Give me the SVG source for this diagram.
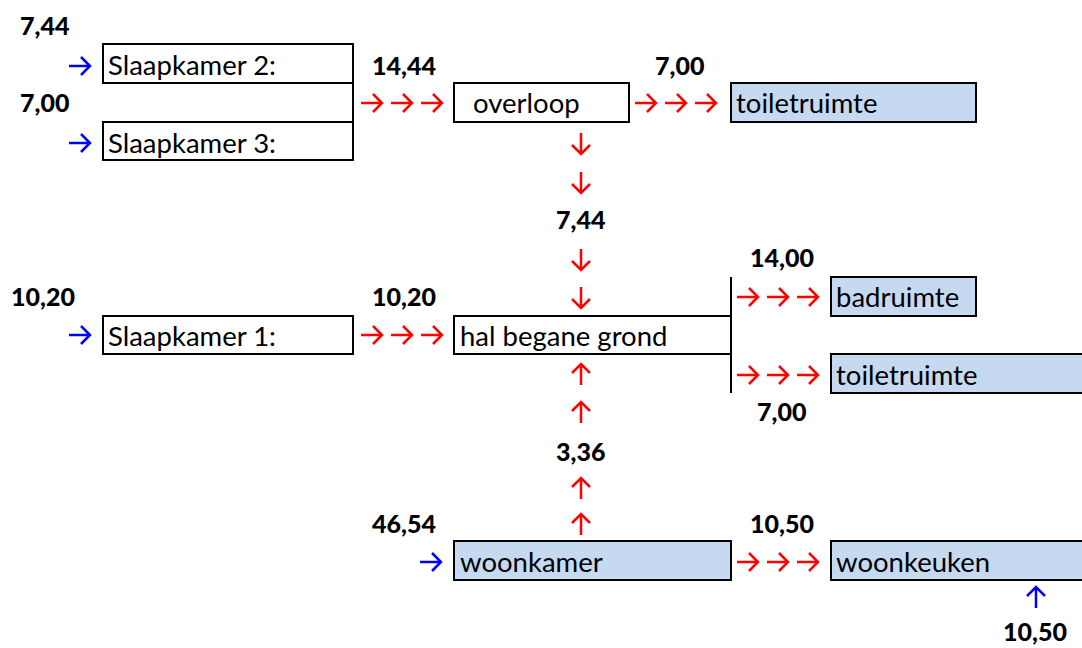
<svg xmlns="http://www.w3.org/2000/svg" width="1082" height="648" viewBox="0 0 1082 648">
<style>
.box{fill:#fff;stroke:#000;stroke-width:2}
.blue{fill:#C5D9F1;stroke:#000;stroke-width:2}
.t{font-family:Lato,"Liberation Sans",sans-serif;font-size:27.5px;fill:#000}
.n{font-family:Lato,"Liberation Sans",sans-serif;font-size:25px;font-weight:900;fill:#000}
.r{stroke:#FF0000;stroke-width:2.5;fill:none}
.b{stroke:#0000FF;stroke-width:2.5;fill:none}
.ln{stroke:#000;stroke-width:2}
</style>
<defs>
<path id="ah" d="M0,0 H21 M12,-9 L21,0 L12,9"/>
</defs>
<rect width="1082" height="648" fill="#fff"/>
<g id="connectors">
<line class="ln" x1="731" y1="277" x2="731" y2="393"/>
<g class="b">
<use href="#ah" x="69" y="66"/>
<use href="#ah" x="69" y="143"/>
<use href="#ah" x="69" y="335"/>
<use href="#ah" x="420" y="562"/>
<use href="#ah" transform="translate(1036,608) rotate(-90)"/>
</g>
<g class="r">
<use href="#ah" x="361" y="103"/><use href="#ah" x="391" y="103"/><use href="#ah" x="421" y="103"/>
<use href="#ah" x="635" y="103"/><use href="#ah" x="665" y="103"/><use href="#ah" x="695" y="103"/>
<use href="#ah" x="361" y="335"/><use href="#ah" x="391" y="335"/><use href="#ah" x="421" y="335"/>
<use href="#ah" x="737" y="297"/><use href="#ah" x="767" y="297"/><use href="#ah" x="797" y="297"/>
<use href="#ah" x="737" y="375"/><use href="#ah" x="767" y="375"/><use href="#ah" x="797" y="375"/>
<use href="#ah" x="737" y="562"/><use href="#ah" x="767" y="562"/><use href="#ah" x="797" y="562"/>
<use href="#ah" transform="translate(581,133) rotate(90)"/>
<use href="#ah" transform="translate(581,172) rotate(90)"/>
<use href="#ah" transform="translate(581,249) rotate(90)"/>
<use href="#ah" transform="translate(581,287) rotate(90)"/>
</g>
<g class="r" stroke-width="3">
<use href="#ah" transform="translate(581,385) rotate(-90)"/>
<use href="#ah" transform="translate(581,423) rotate(-90)"/>
<use href="#ah" transform="translate(581,499) rotate(-90)"/>
<use href="#ah" transform="translate(581,535) rotate(-90)"/>
</g>
</g>
<g id="labels">
<text class="n" x="20" y="35">7,44</text>
<text class="n" x="20" y="112">7,00</text>
<text class="n" x="372" y="75">14,44</text>
<text class="n" x="655" y="75">7,00</text>
<text class="n" x="556" y="229">7,44</text>
<text class="n" x="750" y="267">14,00</text>
<text class="n" x="11" y="306">10,20</text>
<text class="n" x="372" y="306">10,20</text>
<text class="n" x="757" y="421">7,00</text>
<text class="n" x="556" y="461">3,36</text>
<text class="n" x="372" y="533">46,54</text>
<text class="n" x="750" y="533">10,50</text>
<text class="n" x="1003" y="641">10,50</text>
</g>
<g id="slaapkamer2">
<rect class="box" x="103" y="44" width="250" height="39"/>
<text class="t" x="108" y="75">Slaapkamer 2:</text>
</g>
<line class="ln" x1="353" y1="83" x2="353" y2="122"/>
<g id="slaapkamer3">
<rect class="box" x="103" y="122" width="250" height="38"/>
<text class="t" x="108" y="153">Slaapkamer 3:</text>
</g>
<g id="overloop">
<rect class="box" x="454" y="83" width="175" height="39"/>
<text class="t" x="473" y="113">overloop</text>
</g>
<g id="toiletruimte1">
<rect class="blue" x="731" y="83" width="245" height="39"/>
<text class="t" x="736" y="113">toiletruimte</text>
</g>
<g id="slaapkamer1">
<rect class="box" x="103" y="316" width="250" height="38"/>
<text class="t" x="108" y="346">Slaapkamer 1:</text>
</g>
<g id="hal">
<rect class="box" x="454" y="316" width="277" height="38"/>
<text class="t" x="460" y="346">hal begane grond</text>
</g>
<g id="badruimte">
<rect class="blue" x="831" y="277" width="145" height="39"/>
<text class="t" x="836" y="307">badruimte</text>
</g>
<g id="toiletruimte2">
<rect class="blue" x="831" y="354" width="254" height="39"/>
<text class="t" x="836" y="385">toiletruimte</text>
</g>
<g id="woonkamer">
<rect class="blue" x="454" y="541" width="277" height="39"/>
<text class="t" x="460" y="572">woonkamer</text>
</g>
<g id="woonkeuken">
<rect class="blue" x="831" y="541" width="254" height="39"/>
<text class="t" x="836" y="572">woonkeuken</text>
</g>
</svg>
